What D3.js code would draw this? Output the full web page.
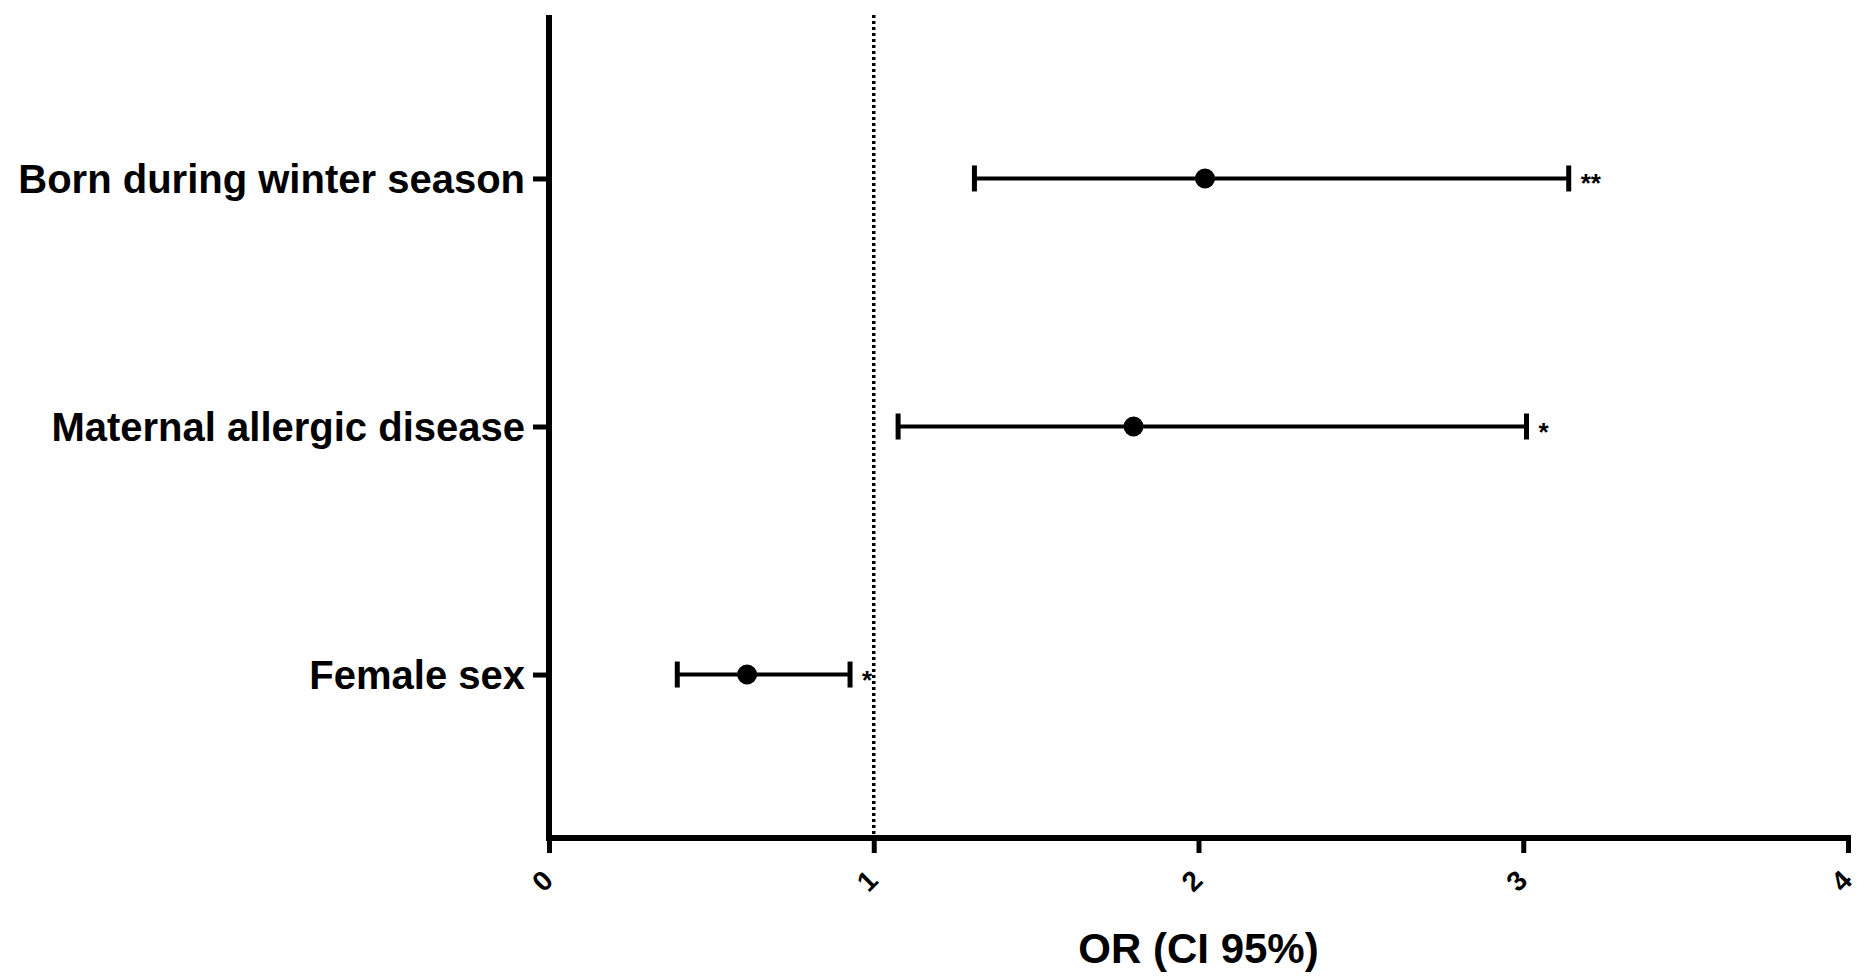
<!DOCTYPE html>
<html>
<head>
<meta charset="utf-8">
<script src="https://cdn.jsdelivr.net/npm/d3@7"></script>
<style>
  body { margin: 0; background: #fff; }
  text { font-family: "Liberation Sans", Arial, sans-serif; font-weight: bold; fill: #000; }
</style>
</head>
<body>
<svg id="chart" width="1870" height="979"></svg>
<script>
// DATA
const labels = ["Born during winter season", "Maternal allergic disease", "Female sex"];
const oddsRatio = [2.02, 1.80, 0.61];
const ciLow = [1.31, 1.075, 0.395];
const ciHigh = [3.14, 3.01, 0.927];
const signif = ["**", "*", "*"];
const xTicks = [0, 1, 2, 3, 4];

const svg = d3.select("#chart");

// CANVAS SETUP
const margin = { top: 15, right: 22, bottom: 141, left: 549 },
  width = 1870 - margin.left - margin.right,
  height = 979 - margin.top - margin.bottom;

const g = svg.append("g").attr("transform", `translate(${margin.left},${margin.top})`);

const x = d3.scaleLinear().domain([0, 4]).range([0, width]);
const y = d3.scalePoint().domain(labels).range([0, height]).padding(0.659);

const rows = labels.map((d, i) => ({
  label: d,
  or: oddsRatio[i],
  lo: ciLow[i],
  hi: ciHigh[i],
  sig: signif[i],
}));

// reference line at OR = 1
g.append("line")
  .attr("x1", x(1))
  .attr("x2", x(1))
  .attr("y1", 0)
  .attr("y2", height)
  .attr("stroke", "#000")
  .attr("stroke-width", 3.5)
  .attr("stroke-dasharray", "3,3");

// AXES
const gx = g.append("g")
  .attr("transform", `translate(0,${height})`)
  .call(d3.axisBottom(x).tickValues(xTicks).tickSize(15).tickSizeOuter(0).tickFormat(d3.format("d")));

gx.select(".domain").attr("stroke-width", 6).attr("d", `M-3,0H${width + 3}`);
gx.selectAll(".tick line").attr("stroke-width", 5);
gx.selectAll(".tick text")
  .attr("y", 0)
  .attr("dy", 0)
  .attr("transform", "translate(-7,43) rotate(-45)")
  .attr("dominant-baseline", "central")
  .attr("text-anchor", "middle")
  .style("font-size", "28px");

const gy = g.append("g")
  .call(d3.axisLeft(y).tickSize(16).tickSizeOuter(0).tickPadding(8));

gy.select(".domain").attr("stroke-width", 6).attr("d", `M0,0V${height + 3}`);
gy.selectAll(".tick line").attr("stroke-width", 5);
gy.selectAll(".tick text").style("font-size", "40px").attr("dy", "0.36em");

// ERROR BARS
const bars = g.selectAll(".bar").data(rows).join("g").attr("class", "bar");

bars.append("line")
  .attr("x1", (d) => x(d.lo))
  .attr("x2", (d) => x(d.hi))
  .attr("y1", (d) => y(d.label))
  .attr("y2", (d) => y(d.label))
  .attr("stroke", "#000")
  .attr("stroke-width", 4);

bars.selectAll(".cap")
  .data((d) => [d.lo, d.hi].map((v) => ({ v, row: d.label })))
  .join("line")
  .attr("class", "cap")
  .attr("x1", (d) => x(d.v))
  .attr("x2", (d) => x(d.v))
  .attr("y1", (d) => y(d.row) - 13)
  .attr("y2", (d) => y(d.row) + 13)
  .attr("stroke", "#000")
  .attr("stroke-width", 5);

bars.append("circle")
  .attr("cx", (d) => x(d.or))
  .attr("cy", (d) => y(d.label))
  .attr("r", 10)
  .attr("fill", "#000");

bars.append("text")
  .attr("x", (d) => x(d.hi) + 12)
  .attr("y", (d) => y(d.label) + 14)
  .style("font-size", "26px")
  .text((d) => d.sig);

// x label
svg.append("text")
  .attr("x", margin.left + x(2))
  .attr("y", 963)
  .attr("text-anchor", "middle")
  .style("font-size", "42px")
  .text("OR (CI 95%)");
</script>
</body>
</html>
